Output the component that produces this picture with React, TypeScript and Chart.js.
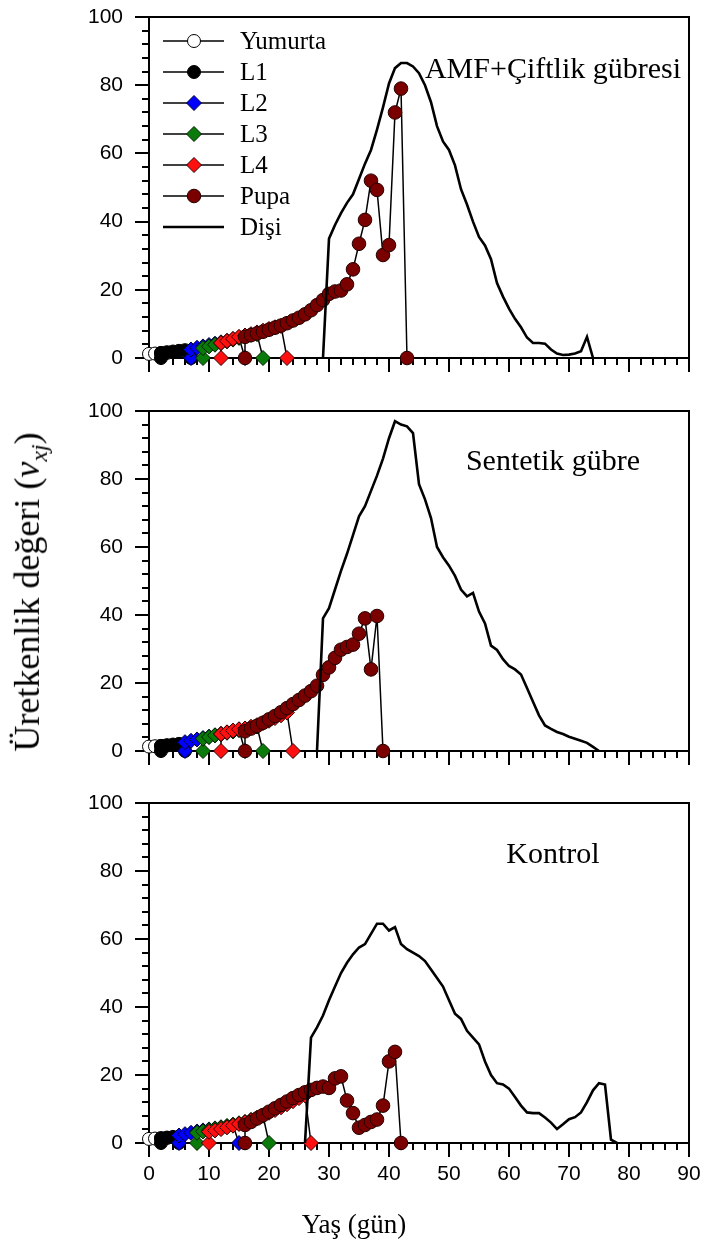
import React, { useEffect, useRef } from 'react';
import { Chart, registerables } from 'chart.js';

Chart.register(...registerables);

type P = [number, number];

// ---------- labels ----------
const seriesLabels = ['Yumurta', 'L1', 'L2', 'L3', 'L4', 'Pupa', 'Dişi'];
const panelNames = ['AMF+Çiftlik gübresi', 'Sentetik gübre', 'Kontrol'];
const xTitle = 'Yaş (gün)';
const yTitle = 'Üretkenlik değeri (';
const xMajorTicks = [0, 10, 20, 30, 40, 50, 60, 70, 80, 90];
const yMajorTicks = [0, 20, 40, 60, 80, 100];

// ---------- Panel 1: AMF + Çiftlik gübresi ----------
const amfEgg: P[] = [[0, 1.2], [1, 1.3], [2, 1.4], [3, 1.5]];
const amfL1: P[] = [[2, 0], [2, 1.5], [3, 1.7], [4, 1.9], [5, 2.1], [6, 2.3], [7, 0]];
const amfL2: P[] = [[7, 0], [7, 2.5], [8, 3.0], [9, 3.4], [10, 3.8], [11, 4.2], [12, 4.6], [13, 5.0], [14, 5.5], [15, 6.0], [16, 0]];
const amfL3: P[] = [[9, 0], [9, 2.9], [10, 3.4], [11, 3.9], [12, 4.4], [13, 4.9], [14, 5.4], [15, 5.9], [16, 6.4], [17, 6.8], [18, 7.0], [19, 0]];
const amfL4: P[] = [[12, 0], [12, 4.4], [13, 5.0], [14, 5.6], [15, 6.2], [16, 6.6], [17, 7.0], [18, 7.5], [19, 8.0], [20, 8.5], [21, 9.0], [22, 9.4], [23, 0]];
const amfPupa: P[] = [[16, 0], [16, 6.2], [17, 6.7], [18, 7.2], [19, 7.7], [20, 8.3], [21, 8.9], [22, 9.5], [23, 10.2], [24, 11.0], [25, 11.8], [26, 12.8], [27, 14.0], [28, 15.5], [29, 17.0], [30, 18.8], [31, 19.5], [32, 19.8], [33, 21.6], [34, 26.0], [35, 33.5], [36, 40.5], [37, 52.0], [38, 49.3], [39, 30.2], [40, 33.1], [41, 72.0], [42, 79.0], [43, 0]];
const amfFemale: P[] = [[29, 0], [30, 35], [31, 39], [32, 42.5], [33, 45.5], [34, 48], [35, 52.5], [36, 57], [37, 61], [38, 67], [39, 73.5], [40, 80.5], [41, 85], [42, 86.5], [43, 86.5], [44, 85.5], [45, 83.5], [46, 80], [47, 75], [48, 68], [49, 63.5], [50, 61], [51, 56.5], [52, 49.5], [53, 45], [54, 40], [55, 35.5], [56, 33], [57, 29], [58, 22], [59, 18], [60, 14.5], [61, 11.5], [62, 9], [63, 6], [64, 4.4], [65, 4.4], [66, 4.2], [67, 2.5], [68, 1.3], [69, 0.9], [70, 1.0], [71, 1.3], [72, 2.0], [73, 6.2], [74, 0]];

// ---------- Panel 2: Sentetik gübre ----------
const sgEgg: P[] = [[0, 1.3], [1, 1.4], [2, 1.5], [3, 1.6]];
const sgL1: P[] = [[2, 0], [2, 1.5], [3, 1.7], [4, 1.9], [5, 2.1], [6, 0]];
const sgL2: P[] = [[6, 0], [6, 2.6], [7, 3.0], [8, 3.4], [9, 3.8], [10, 4.2], [11, 4.6], [12, 5.0], [13, 5.4], [14, 5.8], [15, 6.2], [16, 0]];
const sgL3: P[] = [[9, 0], [9, 3.6], [10, 4.1], [11, 4.6], [12, 5.0], [13, 5.4], [14, 5.8], [15, 6.2], [16, 6.6], [17, 7.0], [18, 7.2], [19, 0]];
const sgL4: P[] = [[12, 0], [12, 5.0], [13, 5.5], [14, 6.0], [15, 6.4], [16, 6.6], [17, 7.1], [18, 7.6], [19, 8.2], [20, 8.9], [21, 9.7], [22, 10.5], [23, 11.3], [24, 0]];
const sgPupa: P[] = [[16, 0], [16, 5.8], [17, 6.6], [18, 7.4], [19, 8.3], [20, 9.3], [21, 10.3], [22, 11.4], [23, 12.6], [24, 13.8], [25, 15.0], [26, 16.3], [27, 17.6], [28, 19.2], [29, 22.4], [30, 24.6], [31, 27.4], [32, 29.8], [33, 30.6], [34, 31.3], [35, 34.5], [36, 39.0], [37, 24.0], [38, 39.7], [39, 0]];
const sgFemale: P[] = [[28, 0], [29, 39], [30, 42], [31, 47.5], [32, 53], [33, 58], [34, 63.5], [35, 69], [36, 72], [37, 76.5], [38, 81], [39, 86], [40, 92], [41, 97], [42, 96], [43, 95.5], [44, 93.5], [45, 78.5], [46, 74], [47, 68.5], [48, 60], [49, 57], [50, 54.5], [51, 51.5], [52, 47.5], [53, 45.5], [54, 46.5], [55, 41], [56, 37.5], [57, 31], [58, 29.7], [59, 27], [60, 25], [61, 24], [62, 22.5], [63, 18.5], [64, 14.5], [65, 10.5], [66, 7.5], [67, 6.5], [68, 5.6], [69, 5], [70, 4.2], [71, 3.6], [72, 3], [73, 2.4], [74, 1.2], [75, 0]];

// ---------- Panel 3: Kontrol ----------
const kEgg: P[] = [[0, 1.2], [1, 1.3], [2, 1.4], [3, 1.5]];
const kL1: P[] = [[2, 0], [2, 1.4], [3, 1.6], [4, 1.8], [5, 0]];
const kL2: P[] = [[5, 0], [5, 2.2], [6, 2.6], [7, 3.0], [8, 3.4], [9, 3.7], [10, 4.0], [11, 4.3], [12, 4.6], [13, 4.9], [14, 5.2], [15, 0]];
const kL3: P[] = [[8, 0], [8, 3.0], [9, 3.4], [10, 3.8], [11, 4.2], [12, 4.6], [13, 5.0], [14, 5.4], [15, 5.8], [16, 6.2], [17, 6.8], [18, 7.4], [19, 8.0], [20, 0]];
const kL4: P[] = [[10, 0], [10, 3.3], [11, 3.7], [12, 4.1], [13, 4.6], [14, 5.1], [15, 5.6], [16, 6.1], [17, 6.7], [18, 7.4], [19, 8.1], [20, 8.9], [21, 9.7], [22, 10.5], [23, 11.4], [24, 12.3], [25, 13.2], [26, 14.0], [27, 0]];
const kPupa: P[] = [[16, 0], [16, 5.3], [17, 6.2], [18, 7.2], [19, 8.2], [20, 9.2], [21, 10.2], [22, 11.2], [23, 12.2], [24, 13.2], [25, 14.1], [26, 14.9], [27, 15.6], [28, 16.2], [29, 16.6], [30, 16.2], [31, 19.0], [32, 19.6], [33, 12.5], [34, 8.8], [35, 4.5], [36, 5.3], [37, 6.2], [38, 6.9], [39, 11.0], [40, 24.0], [41, 26.8], [42, 0]];
const kFemale: P[] = [[26, 0], [27, 31], [28, 34], [29, 37.5], [30, 42], [31, 46], [32, 50], [33, 53], [34, 55.5], [35, 57.5], [36, 58.5], [37, 61.5], [38, 64.5], [39, 64.5], [40, 62.5], [41, 63.5], [42, 58.5], [43, 57], [44, 56], [45, 55], [46, 53.5], [47, 51], [48, 48.5], [49, 46], [50, 42], [51, 38], [52, 36.5], [53, 33], [54, 31], [55, 29], [56, 24], [57, 20], [58, 17.6], [59, 17.2], [60, 16], [61, 13.5], [62, 11], [63, 9], [64, 8.8], [65, 8.8], [66, 7.5], [67, 6], [68, 4.1], [69, 5.5], [70, 7], [71, 7.6], [72, 9], [73, 12], [74, 15.5], [75, 17.6], [76, 17.2], [77, 1], [78, 0]];

// ---------- styles ----------
const SERIF = "'Liberation Serif', 'Times New Roman', serif";
const SANS = "'Liberation Sans', Arial, sans-serif";

type Style = { shape: 'circle' | 'diamond' | 'none'; fill: string; stroke: string; r: number; lw: number; order: number };
const styles: Style[] = [
  { shape: 'circle', fill: '#ffffff', stroke: '#000000', r: 6.5, lw: 1.5, order: 6 },
  { shape: 'circle', fill: '#000000', stroke: '#000000', r: 6.5, lw: 1.5, order: 5 },
  { shape: 'diamond', fill: '#0000ff', stroke: '#000033', r: 7.5, lw: 1.5, order: 4 },
  { shape: 'diamond', fill: '#0a7a0a', stroke: '#002000', r: 7.5, lw: 1.5, order: 3 },
  { shape: 'diamond', fill: '#ff1010', stroke: '#300000', r: 7.5, lw: 1.5, order: 2 },
  { shape: 'circle', fill: '#7a0000', stroke: '#250000', r: 6.8, lw: 1.5, order: 1 },
  { shape: 'none', fill: '#000000', stroke: '#000000', r: 0, lw: 2.6, order: 0 },
];

const panelSeries: P[][][] = [
  [amfEgg, amfL1, amfL2, amfL3, amfL4, amfPupa, amfFemale],
  [sgEgg, sgL1, sgL2, sgL3, sgL4, sgPupa, sgFemale],
  [kEgg, kL1, kL2, kL3, kL4, kPupa, kFemale],
];

type PanelCfg = { top: number; height: number; padTop: number; xH: number; labels: boolean; nameDy: number; legend: boolean };
const panelCfgs: PanelCfg[] = [
  { top: 0, height: 385, padTop: 17, xH: 27, labels: false, nameDy: 53, legend: true },
  { top: 390, height: 385, padTop: 21, xH: 24, labels: false, nameDy: 51, legend: false },
  { top: 782, height: 474, padTop: 21, xH: 113, labels: true, nameDy: 52, legend: false },
];

function drawMarker(ctx: CanvasRenderingContext2D, s: Style, cx: number, cy: number) {
  if (s.shape === 'none') return;
  ctx.beginPath();
  if (s.shape === 'circle') ctx.arc(cx, cy, s.r, 0, Math.PI * 2);
  else {
    ctx.moveTo(cx, cy - s.r);
    ctx.lineTo(cx + s.r, cy);
    ctx.lineTo(cx, cy + s.r);
    ctx.lineTo(cx - s.r, cy);
    ctx.closePath();
  }
  ctx.fillStyle = s.fill;
  ctx.fill();
  ctx.lineWidth = 1;
  ctx.strokeStyle = s.stroke;
  ctx.stroke();
}

function Panel({ idx }: { idx: number }) {
  const ref = useRef<HTMLCanvasElement>(null);
  const cfg = panelCfgs[idx];
  useEffect(() => {
    const series = panelSeries[idx];
    const datasets = series.map((pts, i) => {
      const s = styles[i];
      return {
        label: seriesLabels[i],
        data: pts.map(([x, y]) => ({ x, y })),
        showLine: true,
        borderColor: '#000000',
        borderWidth: s.lw,
        pointStyle: s.shape === 'diamond' ? 'rectRot' : 'circle',
        pointRadius: s.r,
        pointBackgroundColor: s.fill,
        pointBorderColor: s.stroke,
        pointBorderWidth: 1,
        clip: false,
        order: s.order,
        tension: 0,
      } as any;
    });

    const framePlugin = {
      id: 'frame' + idx,
      beforeDatasetsDraw(chart: any) {
        const { ctx, chartArea: a, scales } = chart;
        const xs = scales.x;
        const ys = scales.y;
        ctx.save();
        ctx.strokeStyle = '#000';
        ctx.lineWidth = 2;
        ctx.beginPath();
        ctx.rect(a.left, a.top, a.right - a.left, a.bottom - a.top);
        ctx.stroke();
        ctx.beginPath();
        for (let v = 0; v <= 90; v += 2) {
          const px = Math.round(xs.getPixelForValue(v));
          const len = xMajorTicks.includes(v) ? 14 : 7;
          ctx.moveTo(px, a.bottom);
          ctx.lineTo(px, a.bottom + len);
        }
        for (let v = 0; v <= 100; v += 4) {
          const py = Math.round(ys.getPixelForValue(v));
          const len = yMajorTicks.includes(v) ? 14 : 7;
          ctx.moveTo(a.left, py);
          ctx.lineTo(a.left - len, py);
        }
        ctx.stroke();
        ctx.restore();
      },
      afterDraw(chart: any) {
        const { ctx, chartArea: a } = chart;
        ctx.save();
        ctx.fillStyle = '#000';
        ctx.font = `30px ${SERIF}`;
        ctx.textBaseline = 'middle';
        ctx.textAlign = 'center';
        ctx.fillText(panelNames[idx], 553, a.top + cfg.nameDy);
        if (cfg.legend) {
          ctx.textAlign = 'left';
          ctx.font = `25px ${SERIF}`;
          for (let i = 0; i < seriesLabels.length; i++) {
            const y = a.top + 24 + i * 31;
            const s = styles[i];
            ctx.beginPath();
            ctx.moveTo(163, y);
            ctx.lineTo(224, y);
            ctx.lineWidth = s.lw;
            ctx.strokeStyle = '#000';
            ctx.stroke();
            drawMarker(ctx, s, 194, y);
            ctx.fillStyle = '#000';
            ctx.fillText(seriesLabels[i], 240, y + 1);
          }
        }
        ctx.restore();
      },
    };

    const tickFont = { family: SANS, size: 21 };
    const chart = new Chart(ref.current!, {
      type: 'scatter',
      data: { datasets },
      options: {
        responsive: false,
        animation: false,
        events: [],
        layout: { padding: { top: cfg.padTop, right: 19, bottom: 0, left: 0 } },
        plugins: { legend: { display: false }, tooltip: { enabled: false } },
        scales: {
          x: {
            type: 'linear',
            min: 0,
            max: 90,
            ticks: { stepSize: 10, display: cfg.labels, font: tickFont, color: '#000', padding: 5, maxRotation: 0, autoSkip: false },
            grid: { display: true, drawOnChartArea: false, drawTicks: true, tickLength: 14, color: 'rgba(0,0,0,0)' },
            border: { display: false },
            afterFit: (s: any) => { s.height = cfg.xH; s.paddingLeft = 0; s.paddingRight = 0; },
          },
          y: {
            type: 'linear',
            min: 0,
            max: 100,
            ticks: { stepSize: 20, font: tickFont, color: '#000', padding: 12 },
            grid: { display: true, drawOnChartArea: false, drawTicks: true, tickLength: 14, color: 'rgba(0,0,0,0)' },
            border: { display: false },
            afterFit: (s: any) => { s.width = 149; s.paddingTop = 0; s.paddingBottom = 0; },
          },
        },
      } as any,
      plugins: [framePlugin],
    });
    return () => chart.destroy();
  }, [idx]);
  return (
    <canvas
      ref={ref}
      width={708}
      height={cfg.height}
      style={{ position: 'absolute', left: 0, top: cfg.top, width: 708, height: cfg.height }}
    />
  );
}

export default function App() {
  return (
    <div style={{ position: 'absolute', left: 0, top: 0, width: 708, height: 1256, background: '#fff', overflow: 'hidden' }}>
      <Panel idx={0} />
      <Panel idx={1} />
      <Panel idx={2} />
      <div
        style={{
          position: 'absolute',
          left: 30,
          top: 592,
          transform: 'translate(-50%, -50%) rotate(-90deg)',
          whiteSpace: 'nowrap',
          fontFamily: SERIF,
          fontSize: 36,
          color: '#000',
          lineHeight: 1,
        }}
      >
        {yTitle}<i>v</i><sub style={{ fontSize: 24 }}><i>xj</i></sub>)
      </div>
      <div
        style={{
          position: 'absolute',
          left: 354,
          top: 1224,
          transform: 'translate(-50%, -50%)',
          whiteSpace: 'nowrap',
          fontFamily: SERIF,
          fontSize: 27,
          color: '#000',
          lineHeight: 1,
        }}
      >
        {xTitle}
      </div>
    </div>
  );
}
